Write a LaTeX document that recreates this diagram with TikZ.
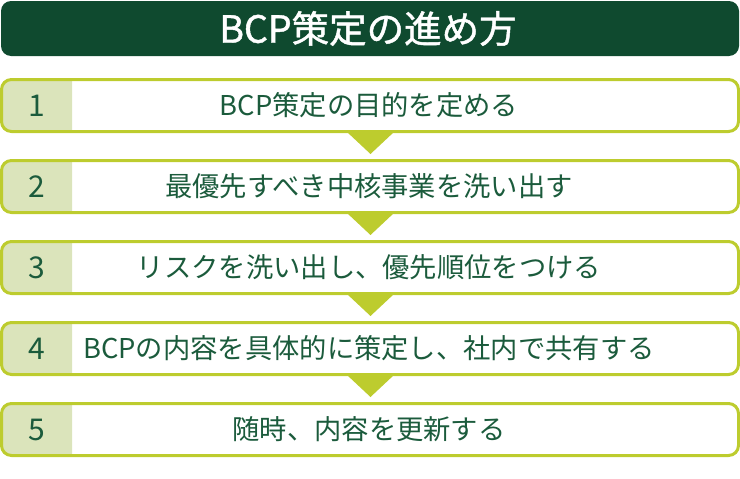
\documentclass[tikz,border=0pt]{standalone}
\usepackage{fontspec}
\setmainfont{Noto Sans CJK JP}
\newfontfamily\titlefont{Noto Sans CJK JP}[FakeBold=1.2]
\usepackage{tikz}
\usetikzlibrary{calc}
\definecolor{bcpdark}{HTML}{0F4A2F}
\definecolor{bcptext}{HTML}{1B5B3C}
\definecolor{bcpline}{HTML}{BDCC2E}
\definecolor{bcpfill}{HTML}{DBE4BB}
\tikzset{
	rowbox/.style={draw=bcpline, line width=3pt, rounded corners=10pt},
	numtext/.style={text=bcptext, font=\fontsize{30}{32}\selectfont},
	rowtext/.style={text=bcptext, font=\fontsize{27.3}{30}\selectfont},
	downtri/.style={fill=bcpline, draw=none}
}
% one step row: \bcprow{number}{top}{text}
\def\bcprow#1#2#3{
	\begin{scope}
		\clip (0, #2) rectangle (72, #2+55);
		\fill[bcpfill, rounded corners=10pt] (1.5, #2+1.5) rectangle (738.5, #2+53.5);
	\end{scope}
	\draw[rowbox] (1.5, #2+1.5) rectangle (738.5, #2+53.5);
	\node[numtext] (num#1) at (37, #2+27.5) {#1};
	\node[rowtext] (txt#1) at (369, #2+27.5) {#3};
}
\begin{document}
\begin{tikzpicture}[x=1pt, y=-1pt]
			%%%%% START %%%%%
			\useasboundingbox (0, 0) rectangle (740, 479);
			
			\fill[bcpdark, rounded corners=10pt] (1, 1) rectangle (739, 56);
			\node[text=white, font=\titlefont\fontsize{37.5}{40}\selectfont] (title) at (368, 28.5) {BCP策定の進め方};
			
			\bcprow{1}{78}{BCP策定の目的を定める}
			\bcprow{2}{159}{最優先すべき中核事業を洗い出す}
			\bcprow{3}{240}{リスクを洗い出し、優先順位をつける}
			\bcprow{4}{321}{BCPの内容を具体的に策定し、社内で共有する}
			\bcprow{5}{402}{随時、内容を更新する}
			
			\fill[downtri] (347, 132) -- (394, 132) -- (370.5, 154) -- cycle;
			\fill[downtri] (347, 213) -- (394, 213) -- (370.5, 235) -- cycle;
			\fill[downtri] (347, 294) -- (394, 294) -- (370.5, 316) -- cycle;
			\fill[downtri] (347, 375) -- (394, 375) -- (370.5, 397) -- cycle;
			
			%%%%% END %%%%%
\end{tikzpicture}
\end{document}
